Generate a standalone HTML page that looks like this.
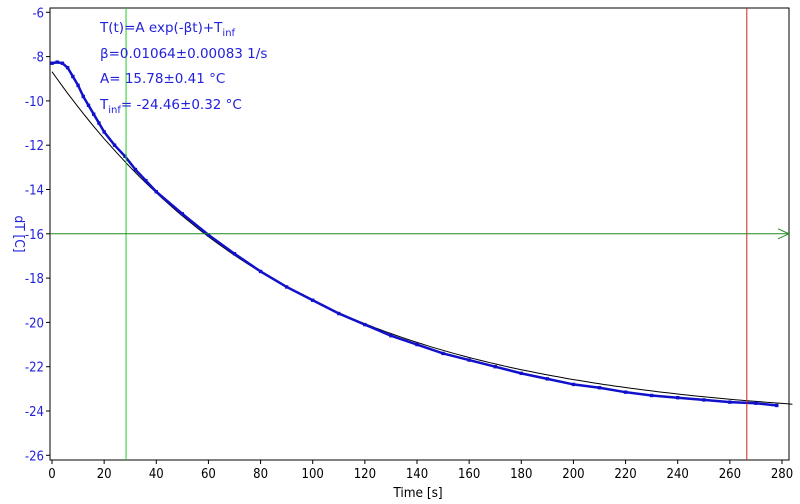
<!DOCTYPE html>
<html><head><meta charset="utf-8"><style>
body{margin:0;background:#fff}
svg{display:block;font-family:"DejaVu Sans Condensed","DejaVu Sans","Liberation Sans",sans-serif}
</style></head><body>
<svg id="chart" width="800" height="504" viewBox="0 0 800 504">
<g id="axes"></g>
<g id="marks"></g>
<g fill="#2222dd" font-size="13.5" style="font-family:'DejaVu Sans','Liberation Sans',sans-serif">
<text x="100" y="32">T(t)=A exp(-βt)+T<tspan font-size="10" dy="4">inf</tspan></text>
<text x="100" y="58">β=0.01064±0.00083 1/s</text>
<text x="100" y="83">A= 15.78±0.41 °C</text>
<text x="100" y="109">T<tspan font-size="10" dy="4">inf</tspan><tspan dy="-4">= -24.46±0.32 °C</tspan></text>
</g>
</svg>
<script>
const times=[0,2,4,6,8,10,12,14,16,18,20,24,28,32,36,40,50,60,70,80,90,100,110,120,130,140,150,160,170,180,190,200,210,220,230,240,250,260,270,278];
const temps=[-8.3,-8.25,-8.3,-8.5,-8.9,-9.3,-9.8,-10.2,-10.6,-11.0,-11.4,-12.0,-12.5,-13.1,-13.6,-14.1,-15.1,-16.05,-16.9,-17.7,-18.4,-19.0,-19.6,-20.1,-20.6,-21.0,-21.4,-21.7,-22.0,-22.3,-22.55,-22.8,-22.95,-23.15,-23.3,-23.4,-23.5,-23.6,-23.65,-23.75];
const fitParams=[15.78,0.01064,-24.46];
const xTicks=[0,20,40,60,80,100,120,140,160,180,200,220,240,260,280];
const yTicks=[-6,-8,-10,-12,-14,-16,-18,-20,-22,-24,-26];
const cursorGreenX=[28.4];
const cursorRedX=[266.5];
const levelY=[-16];
const NS="http://www.w3.org/2000/svg";
const L=50,R=789,T=8,B=460;
const X=t=>52+(t/280)*730;
const Y=v=>12.3+(-6-v)/20*443;
function mk(tag,attrs,parent){const e=document.createElementNS(NS,tag);for(const k in attrs)e.setAttribute(k,attrs[k]);parent.appendChild(e);return e;}
const ax=document.getElementById('axes'),mg=document.getElementById('marks');
let fr=mk('rect',{x:L,y:T,width:R-L,height:B-T,fill:'none',stroke:'#000','stroke-width':1},ax);


xTicks.forEach(t=>{
 let l=mk('line',{x1:X(t),x2:X(t),y1:B,y2:B+4,stroke:'#000'},ax);
 
 
 let tx=mk('text',{x:X(t),y:B+18,'text-anchor':'middle','font-size':13,fill:'#000'},ax);
 tx.textContent=t;
 
 
});
yTicks.forEach(v=>{
 let l=mk('line',{x1:L-4,x2:L,y1:Y(v),y2:Y(v),stroke:'#000'},ax);
 
 
 let tx=mk('text',{x:L-6,y:Y(v)+5,'text-anchor':'end','font-size':13,fill:'#2222dd'},ax);
 tx.textContent=v;
 
 
});
let xt=mk('text',{x:418,y:497,'text-anchor':'middle','font-size':13.5,fill:'#000'},ax);
xt.textContent='Time [s]';


let yt=mk('text',{x:0,y:0,'text-anchor':'middle','font-size':13.5,fill:'#2222dd',transform:'translate(15,234) rotate(90)'},ax);
yt.textContent='dT [C]';


let pts=[];for(let t=0;t<=284;t+=2){pts.push(X(t).toFixed(1)+','+Y(fitParams[0]*Math.exp(-fitParams[1]*t)+fitParams[2]).toFixed(1));}
let fit=mk('polyline',{points:pts.join(' '),fill:'none',stroke:'#000','stroke-width':1},mg);


let dl=mk('polyline',{points:times.map((t,i)=>X(t)+','+Y(temps[i])).join(' '),fill:'none',stroke:'#1111cc','stroke-width':2.5},mg);


times.forEach((t,i)=>{
 let r=mk('rect',{x:X(t)-1.7,y:Y(temps[i])-1.7,width:3.4,height:3.4,fill:'#1111cc'},mg);
 
 
});
cursorGreenX.forEach(t=>{
 let l=mk('line',{x1:X(t),x2:X(t),y1:T,y2:B,stroke:'#22cc22'},mg);
 
 
});
cursorRedX.forEach(t=>{
 let l=mk('line',{x1:X(t),x2:X(t),y1:T,y2:B,stroke:'#cc2222'},mg);
 
 
});
levelY.forEach(v=>{
 let l=mk('line',{x1:L,x2:R,y1:Y(v),y2:Y(v),stroke:'#228822'},mg);
 
 
 let a=mk('polyline',{points:(R-11)+','+(Y(v)-5)+' '+R+','+Y(v)+' '+(R-11)+','+(Y(v)+5),fill:'none',stroke:'#228822'},mg);
 
 
});
</script>
</body></html>
